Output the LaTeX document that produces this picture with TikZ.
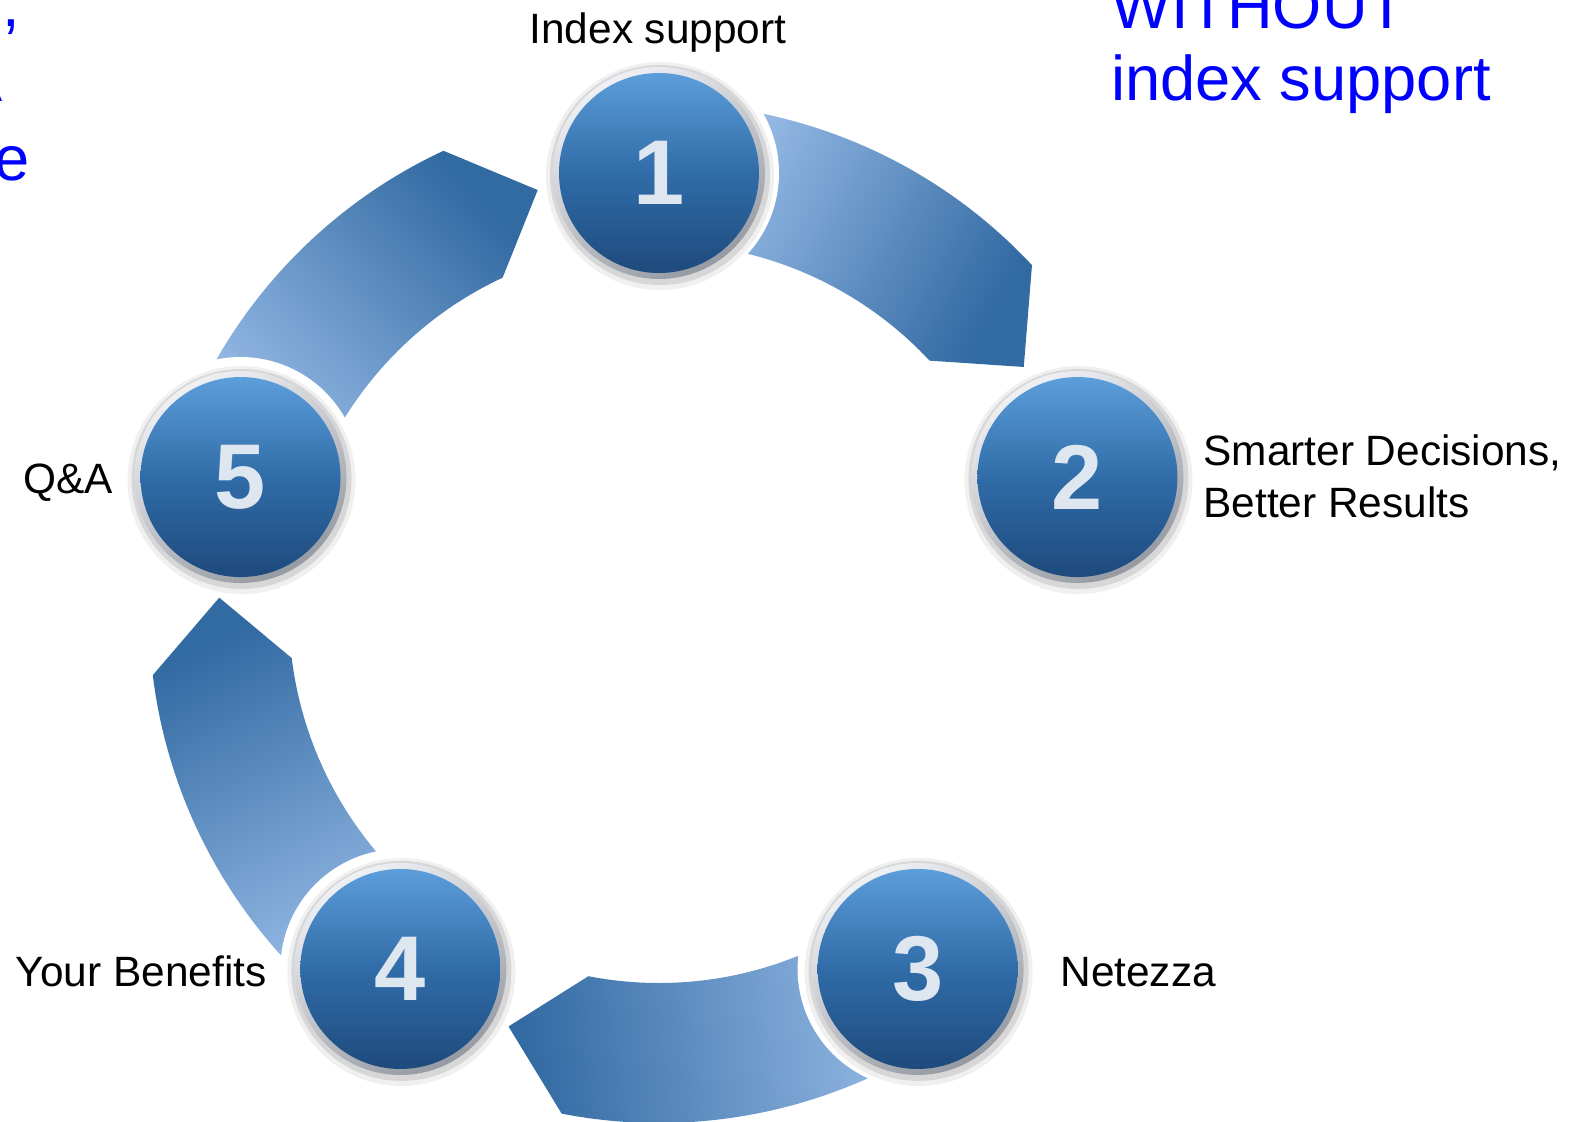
\documentclass[tikz,border=0pt]{standalone}
\usepackage{fontspec}
\setmainfont{Liberation Sans}
\definecolor{arrowlight}{RGB}{162,196,238}
\definecolor{arrowdark}{RGB}{50,106,162}
\definecolor{balltop}{RGB}{92,158,218}
\definecolor{ballmid}{RGB}{48,108,168}
\definecolor{ballbot}{RGB}{30,74,124}
\definecolor{rimlight}{RGB}{238,240,244}
\definecolor{rimdark}{RGB}{150,154,162}
\definecolor{numcol}{RGB}{222,230,240}
\definecolor{noteblue}{RGB}{0,0,255}

\begin{document}
\begin{tikzpicture}[x=0.5pt, y=0.5pt,
  arrowseg/.style={top color=arrowdark, bottom color=arrowlight},
  rim/.style={top color=rimlight, bottom color=rimdark, shading angle=30},
  ball/.style={circle, inner sep=0, minimum size=100pt, top color=balltop, bottom color=ballbot, middle color=ballmid, text=numcol, font=\fontsize{46}{46}\selectfont\bfseries},
  lbl/.style={inner sep=0, font=\fontsize{21.2}{26}\selectfont},
  note/.style={inner sep=0, text=noteblue, font=\fontsize{31.6}{36}\selectfont}]
\useasboundingbox (-659,-508) rectangle (922,613);
\clip (-659,-508) rectangle (922,613);
\foreach \a/\s in {90/-118, 162/-46, 234/26, 306/98}
  \path[arrowseg, shading angle=\s] (\a:510) arc[start angle=\a, delta angle=-47, radius=510]
    -- (\a-56:440) -- (\a-47:370) arc[start angle=\a-47, delta angle=47, radius=370] -- cycle;
\foreach \n/\a in {1/90, 2/18, 3/-54, 4/-126, 5/162} {
  \fill[white] (\a:440) circle[radius=120];
  \fill[black, opacity=0.06, shift={(1,-3)}] (\a:440) circle[radius=114];
  \fill[black, opacity=0.10, shift={(1,-2)}] (\a:440) circle[radius=110];
  \path[rim] (\a:440) circle[radius=106];
  \node[ball] (c\n) at (\a:440) {\n};
}
\node[lbl, anchor=base] (t1) at (-1,570) {Index support};
\node[lbl, anchor=base west, align=left] (t2) at (544,96) {Smarter Decisions,\\Better Results};
\node[lbl, anchor=base west] (t3) at (401,-373) {Netezza};
\node[lbl, anchor=base east] (t4) at (-392,-373) {Your Benefits};
\node[lbl, anchor=base east] (t5) at (-546,120) {Q\&A};
\node[note, anchor=base west, align=left] (n2) at (452,513) {WITHOUT\\index support};
\node[note, anchor=base east] (n1a) at (-639,587) {,};
\node[note, anchor=base east] (n1b) at (-656,512) {A};
\node[note, anchor=base east] (n1c) at (-629,433) {e};
\end{tikzpicture}
\end{document}
